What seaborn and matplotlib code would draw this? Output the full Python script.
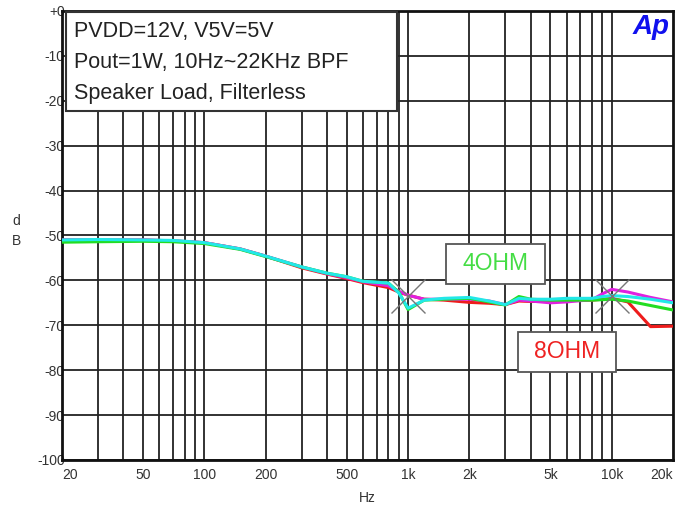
import numpy as np
import pandas as pd
import matplotlib
matplotlib.use("Agg")
import matplotlib.pyplot as plt
import seaborn as sns
from matplotlib.patches import Rectangle
from matplotlib.ticker import FixedLocator, MultipleLocator

# dados (Hz, dB)
freqs = [20, 30, 50, 70, 100, 150, 200, 300, 400, 500, 600, 800, 900, 1000,
         1200, 1500, 2000, 2500, 3000, 3500, 4000, 5000, 6000, 8000, 9000,
         10000, 12000, 15500, 20000]

red_8ohm = [-51.0, -51.0, -51.0, -51.2, -51.6, -53.0, -54.6, -57.2, -58.6, -59.6,
            -60.5, -61.6, -62.6, -63.3, -64.2, -64.4, -64.9, -65.1, -65.4, -64.6,
            -64.7, -64.6, -64.5, -64.4, -64.2, -64.0, -64.8, -70.3, -70.2]
magenta = [-51.0, -51.0, -51.0, -51.2, -51.6, -53.0, -54.6, -57.0, -58.5, -59.4,
           -60.3, -61.2, -62.4, -63.3, -64.2, -64.2, -64.2, -64.6, -65.4, -64.4,
           -64.6, -65.0, -64.8, -64.3, -63.0, -62.0, -62.6, -63.8, -64.8]
green_4ohm = [-51.5, -51.4, -51.3, -51.4, -51.8, -53.1, -54.7, -57.0, -58.4, -59.2,
              -60.2, -60.6, -62.6, -66.5, -64.4, -64.2, -64.0, -64.8, -65.5, -63.6,
              -64.2, -64.4, -64.4, -64.4, -64.3, -64.2, -64.6, -65.6, -66.6]
cyan = [-51.0, -50.9, -51.0, -51.1, -51.6, -53.0, -54.6, -57.0, -58.4, -59.2,
        -60.2, -60.6, -62.8, -66.2, -64.4, -64.0, -63.8, -64.6, -65.4, -64.0,
        -64.2, -64.2, -64.0, -64.0, -63.6, -63.4, -63.6, -64.2, -65.0]

x_tick_vals = [20, 50, 100, 200, 500, 1000, 2000, 5000, 10000, 20000]
x_tick_labels = ["20", "50", "100", "200", "500", "1k", "2k", "5k", "10k", "20k"]
y_tick_vals = [0, -10, -20, -30, -40, -50, -60, -70, -80, -90, -100]
y_tick_labels = ["+0", "-10", "-20", "-30", "-40", "-50", "-60", "-70", "-80", "-90", "-100"]

cursor_f = [1000, 10000]
cursor_db = [-63.4, -63.4]

sns.set_style("white")
plt.rcParams['font.family'] = ['Liberation Sans', 'DejaVu Sans']

df = pd.DataFrame({
    'freq': freqs * 4,
    'db': red_8ohm + magenta + green_4ohm + cyan,
    'serie': ['r'] * len(freqs) + ['m'] * len(freqs) + ['g'] * len(freqs) + ['c'] * len(freqs),
})
cores = {'r': '#ee1c1c', 'm': '#e020e0', 'g': '#22dd22', 'c': '#22e8e8'}

fig = plt.figure(figsize=(6.79, 5.08), dpi=100)
ax = fig.add_axes([0.0913, 0.0945, 0.9, 0.884])

# grade log
grid_x = []
for dec in [10, 100, 1000, 10000]:
    for k in range(1, 10):
        v = k * dec
        if 20 < v < 20000:
            grid_x.append(v)
for v in grid_x:
    ax.axvline(v, color='#222222', lw=1.3, zorder=1)
for v in y_tick_vals:
    ax.axhline(v, color='#222222', lw=1.3, zorder=1)

sns.lineplot(data=df, x='freq', y='db', hue='serie', hue_order=['r', 'm', 'g', 'c'],
             palette=cores, lw=2.2, legend=False, ax=ax, zorder=3)

ax.plot(cursor_f, cursor_db, linestyle='none', marker='x', markersize=24,
        markeredgewidth=1.0, color='#777777', zorder=4)

ax.set_xscale('log')
ax.set_xlim(20, 20000)
ax.set_ylim(-100, 0)
ax.xaxis.set_major_locator(FixedLocator(x_tick_vals))
ax.xaxis.set_minor_locator(FixedLocator([]))
ax.set_xticklabels(x_tick_labels)
ax.set_yticks(y_tick_vals)
ax.set_yticklabels(y_tick_labels)
ax.yaxis.set_minor_locator(MultipleLocator(2))
ax.tick_params(axis='x', length=0, pad=6, labelsize=10, labelcolor='#333333')
ax.tick_params(axis='y', which='major', length=0, pad=-2, labelsize=10, labelcolor='#333333')
ax.tick_params(axis='y', which='minor', direction='in', length=5, width=1.2, color='#222222')
xl = ax.get_xticklabels()
xl[0].set_ha('left')
xl[-1].set_ha('right')
for lab in ax.get_yticklabels():
    lab.set_zorder(0)
ax.set_xlabel('Hz', fontsize=10, color='#333333', labelpad=6)
ax.set_ylabel('d\nB', fontsize=10, color='#333333', rotation=0, labelpad=30, va='center',
              linespacing=1.5)
ax.yaxis.set_label_coords(-0.075, 0.51)

for s in ax.spines.values():
    s.set_linewidth(2.0)
    s.set_color('#111111')

# caixa de condições
ax.add_patch(Rectangle((0.0065, 0.777), 0.5425, 0.221, transform=ax.transAxes,
                       facecolor='white', edgecolor='#333333', lw=1.5, zorder=5))
linhas = ["PVDD=12V, V5V=5V", "Pout=1W, 10Hz~22KHz BPF", "Speaker Load, Filterless"]
for i, t in enumerate(linhas):
    ax.text(0.02, 0.955 - i * 0.069, t, transform=ax.transAxes, fontsize=15.5,
            color='#222222', va='center', ha='left', zorder=6)

# rótulos 4OHM / 8OHM
ax.add_patch(Rectangle((0.629, 0.392), 0.162, 0.089, transform=ax.transAxes,
                       facecolor='white', edgecolor='#555555', lw=1.3, zorder=5))
ax.text(0.71, 0.437, "4OHM", transform=ax.transAxes, fontsize=16.5, color='#44dd44',
        ha='center', va='center', zorder=6)
ax.add_patch(Rectangle((0.747, 0.196), 0.160, 0.089, transform=ax.transAxes,
                       facecolor='white', edgecolor='#555555', lw=1.3, zorder=5))
ax.text(0.827, 0.241, "8OHM", transform=ax.transAxes, fontsize=16.5, color='#ee2222',
        ha='center', va='center', zorder=6)

ax.text(0.995, 0.965, "Ap", transform=ax.transAxes, fontsize=20, color='#1010ee',
        fontweight='bold', fontstyle='italic', ha='right', va='center', zorder=6)

fig.savefig('out.png', dpi=100)
